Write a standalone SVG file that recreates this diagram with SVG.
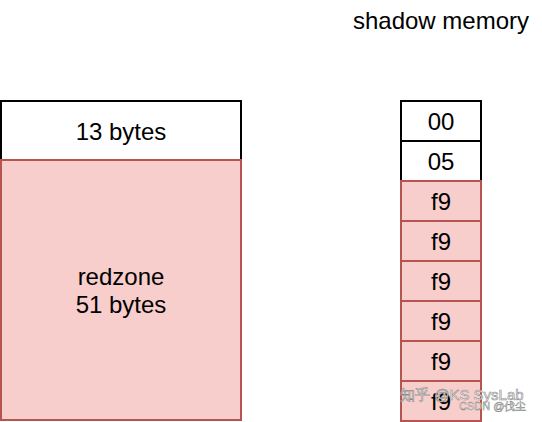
<svg xmlns="http://www.w3.org/2000/svg" width="542" height="422" viewBox="0 0 542 422">
<style>
.w{fill:#ffffff;stroke:#000000;stroke-width:2}
.r{fill:#f8cecc;stroke:#b85450;stroke-width:2}
text{font-family:"Liberation Sans",Arial,sans-serif;font-size:24px;fill:#000;text-anchor:middle}
.wm{font-size:15px;fill:#ffffff;stroke:#888;stroke-width:0.6;text-anchor:start}
.wm2{font-size:11px;fill:#ffffff;stroke:#888;stroke-width:0.5;text-anchor:start}
</style>
<rect width="542" height="422" fill="#ffffff"/>
<text x="441" y="29">shadow memory</text>
<g id="mem-13">
<rect class="w" x="1" y="101" width="240" height="59"/>
<text x="121" y="140">13 bytes</text>
</g>
<g id="mem-redzone">
<rect class="r" x="1" y="160" width="240" height="260"/>
<text x="121" y="285">redzone</text>
<text x="121" y="313">51 bytes</text>
</g>
<g id="s0"><rect class="w" x="401" y="101" width="80" height="40"/><text x="441" y="130">00</text></g>
<g id="s1"><rect class="w" x="401" y="141" width="80" height="40"/><text x="441" y="170">05</text></g>
<g id="s2"><rect class="r" x="401" y="181" width="80" height="40"/><text x="441" y="210">f9</text></g>
<g id="s3"><rect class="r" x="401" y="221" width="80" height="40"/><text x="441" y="250">f9</text></g>
<g id="s4"><rect class="r" x="401" y="261" width="80" height="40"/><text x="441" y="290">f9</text></g>
<g id="s5"><rect class="r" x="401" y="301" width="80" height="40"/><text x="441" y="330">f9</text></g>
<g id="s6"><rect class="r" x="401" y="341" width="80" height="40"/><text x="441" y="370">f9</text></g>
<g id="s7"><rect class="r" x="401" y="381" width="80" height="40"/><text x="441" y="410">f9</text></g>
<g id="connectors"></g>
<text class="wm" x="400" y="400" font-family="'Liberation Sans','Noto Sans CJK SC',sans-serif">知乎 @KS SysLab</text>
<text class="wm2" x="459" y="410" font-family="'Liberation Sans','Noto Sans CJK SC',sans-serif">CSDN @伐尘</text>
</svg>
